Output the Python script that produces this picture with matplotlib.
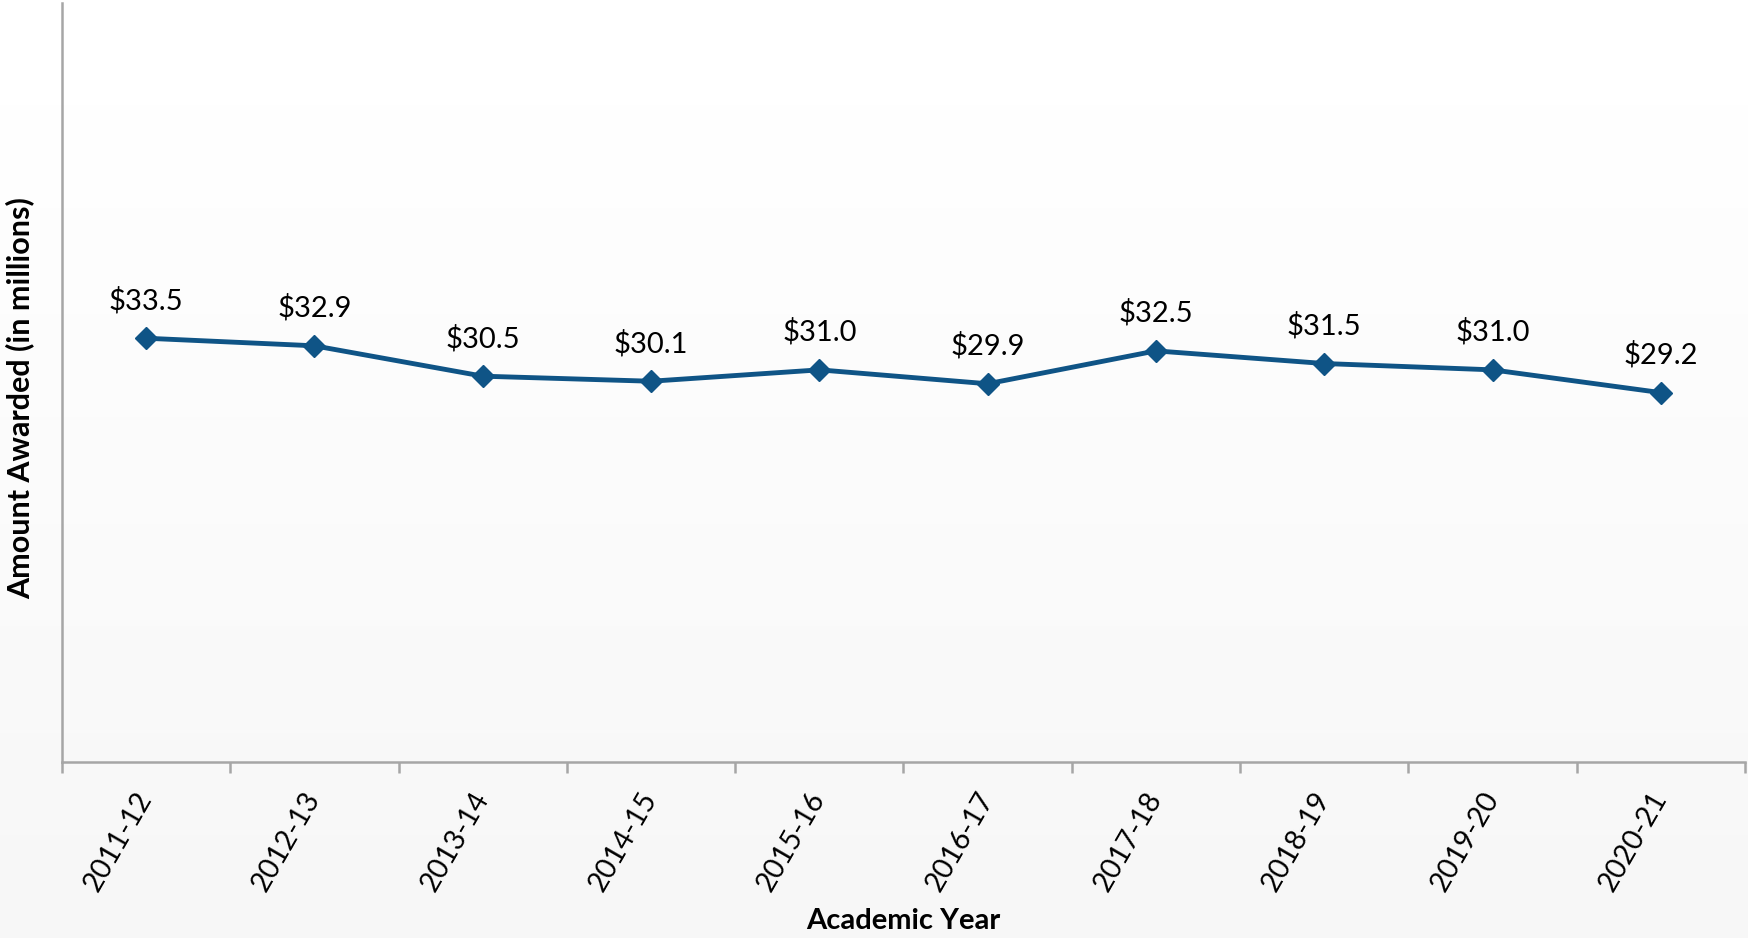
import numpy as np
import matplotlib.pyplot as plt
import matplotlib.transforms as mtransforms

plt.rcParams['font.family'] = ['Lato', 'DejaVu Sans']

years = ["2011-12", "2012-13", "2013-14", "2014-15", "2015-16",
         "2016-17", "2017-18", "2018-19", "2019-20", "2020-21"]
amounts = [33.5, 32.9, 30.5, 30.1, 31.0, 29.9, 32.5, 31.5, 31.0, 29.2]

line_color = "#0f5486"
axis_color = "#a6a6a6"

fig = plt.figure(figsize=(17.48, 9.38), dpi=100)

# soft white-to-grey backdrop over the whole figure
bg = fig.add_axes([0, 0, 1, 1], zorder=-10)
grad = np.linspace(1.0, 0.965, 256).reshape(-1, 1)
bg.imshow(grad, aspect="auto", cmap="gray", vmin=0, vmax=1,
          extent=[0, 1, 0, 1])
bg.axis("off")

ax = fig.add_axes([62 / 1748, 1 - 762 / 938, (1745 - 62) / 1748, 759 / 938])
ax.set_facecolor("none")

x = np.arange(len(years))
ax.plot(x, amounts, color=line_color, lw=3.5, marker="D", markersize=11,
        solid_joinstyle="round", zorder=3)

for xi, v in zip(x, amounts):
    ax.annotate(f"${v:.1f}", (xi, v), xytext=(0, 21), textcoords="offset points",
                ha="center", va="baseline", fontsize=21, color="black")

ax.set_xlim(-0.5, len(years) - 0.5)
ax.set_ylim(0, 60)
ax.set_yticks([])

ax.set_xticks(x)
ax.set_xticklabels(years, rotation=60, ha="right", va="top", fontsize=20.5)
ax.tick_params(axis="x", which="major", length=0, pad=18)
shift = mtransforms.ScaledTranslation(11 / 100, 0, fig.dpi_scale_trans)
for lab in ax.get_xticklabels():
    lab.set_transform(lab.get_transform() + shift)
ax.set_xticks(np.arange(-0.5, len(years)), minor=True)
ax.tick_params(axis="x", which="minor", length=8, width=1.8, color=axis_color)

for side in ["top", "right"]:
    ax.spines[side].set_visible(False)
for side in ["left", "bottom"]:
    ax.spines[side].set_color(axis_color)
    ax.spines[side].set_linewidth(1.8)

fig.text(20 / 1748, 1 - 398 / 938, "Amount Awarded (in millions)", rotation=90,
         ha="center", va="center", fontsize=22, fontweight="bold")
fig.text(903 / 1748, 1 - 921 / 938, "Academic Year", ha="center", va="center",
         fontsize=21, fontweight="bold")

plt.savefig("out.png", dpi=100)
